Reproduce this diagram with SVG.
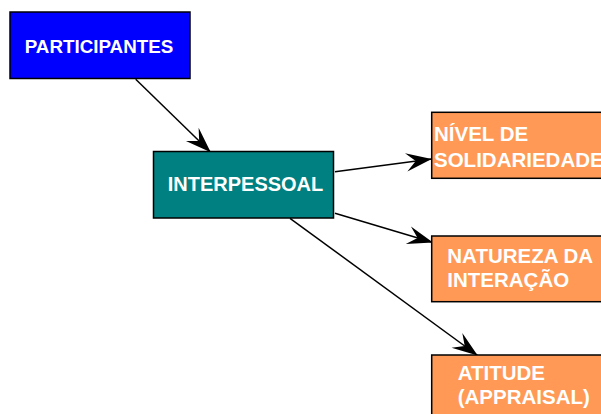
<svg xmlns="http://www.w3.org/2000/svg" width="601" height="414" viewBox="0 0 601 414">
<style>
.box{stroke:#000;stroke-width:1.5}
.t{font-family:"Liberation Sans",Arial,sans-serif;font-weight:bold;fill:#fff;font-size:20.5px}
.c{fill:none;stroke:#000;stroke-width:1.5}
</style>
<defs>
<marker id="ah" markerUnits="userSpaceOnUse" markerWidth="30" markerHeight="30" viewBox="-26 -13 28 26" refX="0" refY="0" orient="auto">
<path d="M0,0 L-24,-8.5 L-15,0 L-24,8.5 Z" fill="#000"/>
</marker>
</defs>
<rect width="601" height="414" fill="#fff"/>
<g id="connectors">
<line class="c" x1="135.7" y1="79.3" x2="210.7" y2="152.3" marker-end="url(#ah)"/>
<line class="c" x1="335" y1="171.7" x2="431.7" y2="159" marker-end="url(#ah)"/>
<line class="c" x1="335" y1="213.3" x2="433" y2="242.5" marker-end="url(#ah)"/>
<line class="c" x1="290" y1="218.3" x2="477.7" y2="355.5" marker-end="url(#ah)"/>
</g>
<g id="participantes">
<rect class="box" x="10" y="12" width="180" height="66.5" fill="#0000FF"/>
<text class="t" x="99" y="52.5" text-anchor="middle" style="font-size:18.8px">PARTICIPANTES</text>
</g>
<g id="interpessoal">
<rect class="box" x="153.5" y="151.5" width="180" height="66.5" fill="#008080"/>
<text class="t" x="245.5" y="190.7" text-anchor="middle" style="font-size:20px">INTERPESSOAL</text>
</g>
<g id="nivel">
<rect class="box" x="431.7" y="112.3" width="180" height="66" fill="#FF9955"/>
<text class="t" x="434" y="140.7">NÍVEL DE</text>
<text class="t" x="434" y="166.5">SOLIDARIEDADE</text>
</g>
<g id="natureza">
<rect class="box" x="431.7" y="236" width="180" height="65.7" fill="#FF9955"/>
<text class="t" x="447.3" y="263.3">NATUREZA DA</text>
<text class="t" x="447.3" y="287.3">INTERAÇÃO</text>
</g>
<g id="atitude">
<rect class="box" x="431.7" y="355" width="180" height="70" fill="#FF9955"/>
<text class="t" x="457.7" y="380">ATITUDE</text>
<text class="t" x="457.7" y="404">(APPRAISAL)</text>
</g>
</svg>
